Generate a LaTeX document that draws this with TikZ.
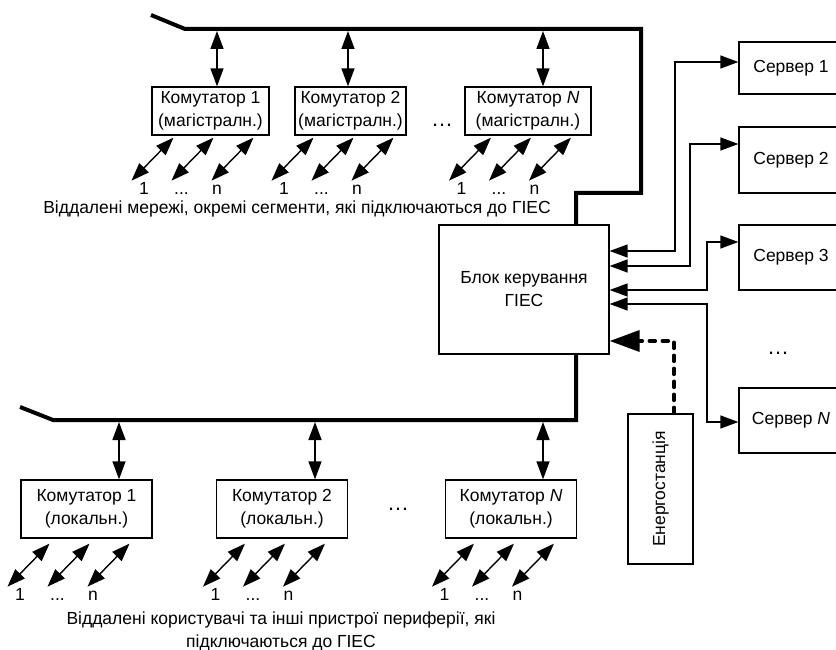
\documentclass[tikz,border=0pt]{standalone}
\usepackage{fontspec}
\setmainfont{Liberation Sans}
\usetikzlibrary{arrows.meta}
\newcommand{\tridot}{...}

\begin{document}
\begin{tikzpicture}[x=1pt, y=-1pt,
    every node/.style={font=\fontsize{17.5}{23}\selectfont},
    box/.style={draw, line width=1.3pt, align=center, inner sep=0pt},
    bus/.style={line width=4pt},
    link/.style={line width=1.4pt, {Triangle[length=18pt,width=13pt]}-{Triangle[length=18pt,width=13pt]}},
    power/.style={line width=3.5pt, dash pattern=on 6pt off 7pt, line cap=round, -{Triangle[length=30pt,width=21pt]}},
    lab/.style={anchor=north west, inner sep=0pt, text height=12pt, text depth=0pt},
    gap/.style={anchor=base, font=\fontsize{22}{23}\selectfont}]
    \clip (0,0) rectangle (836,650);

    % Control block
    \node[box, minimum width=170, minimum height=129] (blk) at (524,289.5) {Блок керування\\ГІЕС};

    % Servers
    \node[box, minimum width=104, minimum height=52] (s1) at (791,68) {Сервер 1};
    \node[box, minimum width=104, minimum height=66] (s2) at (791,160) {Сервер 2};
    \node[box, minimum width=104, minimum height=65] (s3) at (791,257.5) {Сервер 3};
    \node[box, minimum width=104, minimum height=65] (sN) at (791,420.5) {Сервер \textit{N}};
    \node[gap] (sdots) at (778,354) {\ldots};

    \draw[link] (blk.east |- 0,251) -| (675,62) -- (s1.west |- 0,62);
    \draw[link] (blk.east |- 0,266) -| (690,144) -- (s2.west |- 0,144);
    \draw[link] (blk.east |- 0,290) -| (707,242) -- (s3.west |- 0,242);
    \draw[link] (blk.east |- 0,304) -| (707,422) -- (sN.west |- 0,422);

    % Power station
    \node[box, minimum width=150, minimum height=65, rotate=90] (en) at (660.5,489) {Енергостанція};
    \draw[power] (674,0 |- en.east) -- (674,341) -- (blk.east |- 0,341);

    % Backbone bus
    \draw[bus] (151,15) -- (185,29) -- (641,29) |- (576,193) -- (576,0 |- blk.north);
    \foreach \n/\x/\w/\lbl in {k1/210.5/117/1, k2/350.5/111/2, kN/528/126/{\textit{N}}} {
        \node[box, minimum width=\w, minimum height=48] (\n) at (\x,111) {Комутатор \lbl\\(магістралн.)};
    }
    \node[gap] (kdots) at (442,127) {\ldots};
    \foreach \n/\x in {k1/217, k2/348, kN/543} {
        \coordinate (b\n) at (\x,31);
        \draw[link] (b\n) -- (\n.north -| b\n);
        \foreach \dx/\t/\o in {-37/1/7, 3/\tridot/2, 43/n/0}
            \draw[link] ([shift={(\dx,2)}]\n.south) -- ++(-42,43) node[lab, xshift=\o pt, yshift=-1pt] {\t};
    }
    \node (ktext) at (297,209) {Віддалені мережі, окремі сегменти, які підключаються до ГІЕС};

    % Local bus
    \draw[bus] (20,407) -- (53,420) -- (576,420) -- (576,0 |- blk.south);
    \foreach \n/\x/\lbl in {l1/86.5/1, l2/282/2, lN/511/{\textit{N}}} {
        \node[box, minimum width=131, minimum height=58] (\n) at (\x,509) {Комутатор \lbl\\(локальн.)};
    }
    \node[gap] (ldots) at (398,510) {\ldots};
    \foreach \n/\x in {l1/119, l2/315, lN/543} {
        \coordinate (b\n) at (\x,422);
        \draw[link] (b\n) -- (\n.north -| b\n);
        \foreach \dx/\t/\o in {-37/1/7, 3/\tridot/2, 43/n/0}
            \draw[link] ([shift={(\dx,5)}]\n.south) -- ++(-42,43) node[lab, xshift=\o pt, yshift=-1pt] {\t};
    }
    \node[align=center] (ltext) at (281,631) {Віддалені користувачі та інші пристрої периферії, які\\підключаються до ГІЕС};
\end{tikzpicture}
\end{document}
